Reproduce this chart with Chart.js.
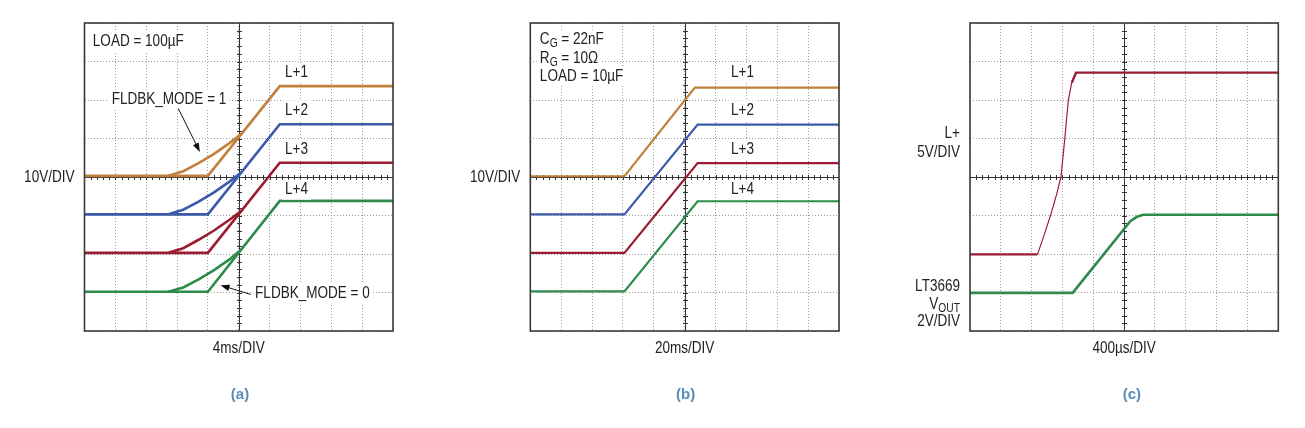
<!DOCTYPE html>
<html>
<head>
<meta charset="utf-8">
<title>Foldback mode waveforms</title>
<script src="https://cdn.jsdelivr.net/npm/chart.js@4.4.1/dist/chart.umd.min.js"></script>
<style>
    html, body { margin: 0; padding: 0; background: #fff; }
    #wrap { position: relative; width: 1305px; height: 428px; overflow: hidden; }
    #wrap canvas { position: absolute; top: 0; }
</style>
</head>
<body>
<div id="wrap">
    <canvas id="scope-a" width="440" height="428" style="left:0;width:440px;height:428px"></canvas>
    <canvas id="scope-b" width="440" height="428" style="left:440px;width:440px;height:428px"></canvas>
    <canvas id="scope-c" width="425" height="428" style="left:880px;width:425px;height:428px"></canvas>
</div>
<script>
/* values are in screen divisions: x 0..10, y 0..8 (bottom = 0) */

// ---- (a) LOAD = 100µF, 4ms/DIV ----
const aRampX = [0, 4.0, 6.33, 10];
const aL1 = [4.03, 4.03, 6.36, 6.36];
const aL2 = [3.03, 3.03, 5.37, 5.37];
const aL3 = [2.03, 2.03, 4.37, 4.37];
const aL4 = [1.02, 1.02, 3.38, 3.38];
// FLDBK_MODE = 1 branch, up to where it joins the ramp
const aSoftX = [2.72, 3.2, 3.7, 4.2, 4.7, 5.1];
const aSoftL1 = [4.03, 4.15, 4.36, 4.6, 4.88, 5.13];
const aSoftL2 = [3.03, 3.15, 3.36, 3.6, 3.88, 4.13];
const aSoftL3 = [2.03, 2.15, 2.37, 2.61, 2.89, 3.13];
const aSoftL4 = [1.02, 1.13, 1.34, 1.58, 1.86, 2.13];

// ---- (b) CG = 22nF, RG = 10Ω, LOAD = 10µF, 20ms/DIV ----
const bRampX1 = [0, 3.05, 5.33, 10];
const bRampX = [0, 3.05, 5.42, 10];
const bL1 = [4.02, 4.02, 6.32, 6.32];
const bL2 = [3.03, 3.03, 5.36, 5.36];
const bL3 = [2.03, 2.03, 4.36, 4.36];
const bL4 = [1.03, 1.03, 3.37, 3.37];

// ---- (c) L+ 5V/DIV, LT3669 VOUT 2V/DIV, 400µs/DIV ----
const cLplusX = [0, 2.19, 2.45, 2.65, 2.82, 2.95, 3.06, 3.19, 3.3, 3.44, 10];
const cLplus = [1.99, 1.99, 2.6, 3.1, 3.58, 4.0, 4.87, 6.0, 6.45, 6.71, 6.71];
const cVoutX = [0, 3.33, 5.2, 5.42, 5.62, 10];
const cVout = [0.99, 0.99, 2.85, 2.97, 3.02, 3.02];

const COLORS = {
    orange: '#C1803C',
    blue: '#3C5AAA',
    red: '#9B1C32',
    green: '#2E8B4C'
};
const FONT = '"Liberation Sans", Arial, sans-serif';
const MAIN_FONT = '16.5px ' + FONT;
const SUB_FONT = '12.5px ' + FONT;
const NARROW = 0.82;   // the scope captions use a condensed face

function trace(xs, ys, color, width, extra) {
    return Object.assign({
        data: xs.map((x, i) => ({ x: x, y: ys[i] })),
        showLine: true,
        borderColor: color,
        borderWidth: width,
        pointRadius: 0,
        fill: false
    }, extra || {});
}

// text made of normal and subscript runs, squeezed horizontally
function drawParts(ctx, parts, x, y, align, box) {
    let w = 0;
    parts.forEach(p => {
        ctx.font = p.sub ? SUB_FONT : MAIN_FONT;
        w += ctx.measureText(p.t).width * NARROW;
    });
    let cx = align === 'right' ? x - w : align === 'center' ? x - w / 2 : x;
    if (box) {
        ctx.fillStyle = '#fff';
        ctx.fillRect(cx - 3, y - 10, w + 6, 20);
    }
    ctx.fillStyle = '#222';
    ctx.textAlign = 'left';
    ctx.textBaseline = 'middle';
    parts.forEach(p => {
        ctx.font = p.sub ? SUB_FONT : MAIN_FONT;
        ctx.save();
        ctx.translate(cx, p.sub ? y + 4 : y);
        ctx.scale(NARROW, 1);
        ctx.fillText(p.t, 0, 0);
        ctx.restore();
        cx += ctx.measureText(p.t).width * NARROW;
    });
}

function drawArrow(ctx, x1, y1, x2, y2) {
    const ang = Math.atan2(y2 - y1, x2 - x1);
    const len = 9, half = 3.2;
    ctx.strokeStyle = '#111';
    ctx.fillStyle = '#111';
    ctx.lineWidth = 1;
    ctx.beginPath();
    ctx.moveTo(x1, y1);
    ctx.lineTo(x2 - Math.cos(ang) * len * 0.8, y2 - Math.sin(ang) * len * 0.8);
    ctx.stroke();
    ctx.beginPath();
    ctx.moveTo(x2, y2);
    ctx.lineTo(x2 - Math.cos(ang) * len + Math.sin(ang) * half, y2 - Math.sin(ang) * len - Math.cos(ang) * half);
    ctx.lineTo(x2 - Math.cos(ang) * len - Math.sin(ang) * half, y2 - Math.sin(ang) * len + Math.cos(ang) * half);
    ctx.closePath();
    ctx.fill();
}

const scopePlugin = {
    id: 'scope',
    beforeDatasetsDraw(chart) {
        const { ctx, chartArea: a, scales: { x, y } } = chart;
        const cx = Math.round(x.getPixelForValue(5)) + 0.5;
        const cy = Math.round(y.getPixelForValue(4)) + 0.5;
        ctx.save();
        ctx.strokeStyle = '#333';
        ctx.lineWidth = 1;
        ctx.beginPath();
        ctx.moveTo(a.left, cy); ctx.lineTo(a.right, cy);
        ctx.moveTo(cx, a.top); ctx.lineTo(cx, a.bottom);
        // minor ticks, 5 per division
        for (let i = 1; i < 50; i++) {
            const px = Math.round(x.getPixelForValue(i / 5)) + 0.5;
            ctx.moveTo(px, cy - 2.5); ctx.lineTo(px, cy + 2.5);
        }
        for (let i = 1; i < 40; i++) {
            const py = Math.round(y.getPixelForValue(i / 5)) + 0.5;
            ctx.moveTo(cx - 2.5, py); ctx.lineTo(cx + 2.5, py);
        }
        ctx.stroke();
        ctx.restore();
    },
    afterDatasetsDraw(chart, args, opts) {
        const { ctx, chartArea: a, scales: { x, y } } = chart;
        ctx.save();
        ctx.strokeStyle = '#3a3a3a';
        ctx.lineWidth = 1.6;
        ctx.strokeRect(a.left, a.top, a.right - a.left, a.bottom - a.top);

        (opts.notes || []).forEach(n => {
            drawParts(ctx, n.parts, x.getPixelForValue(n.x), y.getPixelForValue(n.y), 'left', true);
        });
        (opts.arrows || []).forEach(r => {
            drawArrow(ctx, x.getPixelForValue(r.from[0]), y.getPixelForValue(r.from[1]),
                x.getPixelForValue(r.to[0]), y.getPixelForValue(r.to[1]));
        });
        (opts.side || []).forEach(s => {
            drawParts(ctx, s.parts, a.left - 10, y.getPixelForValue(s.y), 'right', false);
        });
        drawParts(ctx, [{ t: opts.xTitle }], (a.left + a.right) / 2, a.bottom + 17, 'center', false);

        ctx.font = 'bold 15px "Liberation Sans", Arial, sans-serif';
        ctx.fillStyle = '#5A8CB9';
        ctx.textAlign = 'center';
        ctx.textBaseline = 'middle';
        ctx.fillText(opts.tag, x.getPixelForValue(opts.tagX), a.bottom + 64);
        ctx.restore();
    }
};

function scopeChart(id, datasets, pad, scope) {
    const axis = max => ({
        type: 'linear',
        min: 0,
        max: max,
        ticks: { display: false, stepSize: 1 },
        grid: { color: '#9a9a9a', lineWidth: 1, drawTicks: false },
        border: { display: false, dash: [1, 2] }
    });
    return new Chart(document.getElementById(id), {
        type: 'scatter',
        data: { datasets: datasets },
        options: {
            responsive: false,
            animation: false,
            events: [],
            layout: { padding: pad },
            elements: { line: { tension: 0 } },
            plugins: {
                legend: { display: false },
                tooltip: { enabled: false },
                scope: scope
            },
            scales: { x: axis(10), y: axis(8) }
        },
        plugins: [scopePlugin]
    });
}

const lLabels = ['L+1', 'L+2', 'L+3', 'L+4'];
const lLabelY = [6.71, 5.73, 4.72, 3.67];
const lNotes = lLabels.map((t, i) => ({ x: 6.5, y: lLabelY[i], parts: [{ t: t }] }));

// (a)
scopeChart('scope-a', [
    trace(aRampX, aL1, COLORS.orange, 2.6),
    trace(aSoftX, aSoftL1, COLORS.orange, 2.6),
    trace(aRampX, aL2, COLORS.blue, 2.6),
    trace(aSoftX, aSoftL2, COLORS.blue, 2.6),
    trace(aRampX, aL3, COLORS.red, 2.6),
    trace(aSoftX, aSoftL3, COLORS.red, 2.6),
    trace(aRampX, aL4, COLORS.green, 2.6),
    trace(aSoftX, aSoftL4, COLORS.green, 2.6)
], { left: 84.5, right: 47, top: 23, bottom: 97 }, {
    notes: [
        { x: 0.27, y: 7.53, parts: [{ t: 'LOAD = 100µF' }] },
        { x: 0.88, y: 6.01, parts: [{ t: 'FLDBK_MODE = 1' }] },
        { x: 5.53, y: 0.97, parts: [{ t: 'FLDBK_MODE = 0' }] }
    ].concat(lNotes),
    arrows: [
        { from: [3.04, 5.78], to: [3.74, 4.65] },
        { from: [5.39, 0.95], to: [4.41, 1.19] }
    ],
    side: [{ y: 4.0, parts: [{ t: '10V/DIV' }] }],
    xTitle: '4ms/DIV',
    tag: '(a)',
    tagX: 5.04
});

// (b)
scopeChart('scope-b', [
    trace(bRampX1, bL1, COLORS.orange, 2.2),
    trace(bRampX, bL2, COLORS.blue, 2.2),
    trace(bRampX, bL3, COLORS.red, 2.2),
    trace(bRampX, bL4, COLORS.green, 2.2)
], { left: 90.3, right: 41, top: 23, bottom: 97 }, {
    notes: [
        { x: 0.31, y: 7.57, parts: [{ t: 'C' }, { t: 'G', sub: true }, { t: ' = 22nF' }] },
        { x: 0.31, y: 7.08, parts: [{ t: 'R' }, { t: 'G', sub: true }, { t: ' = 10Ω' }] },
        { x: 0.31, y: 6.62, parts: [{ t: 'LOAD = 10µF' }] }
    ].concat(lNotes),
    side: [{ y: 4.0, parts: [{ t: '10V/DIV' }] }],
    xTitle: '20ms/DIV',
    tag: '(b)',
    tagX: 5.03
});

// (c) the fast edge of L+ draws thinner than its flat parts
const steepWidth = ctx => {
    const dx = ctx.p1.parsed.x - ctx.p0.parsed.x;
    const dy = ctx.p1.parsed.y - ctx.p0.parsed.y;
    return Math.abs(dy) > 2 * Math.abs(dx) ? 1.2 : 2.4;
};
scopeChart('scope-c', [
    trace(cLplusX, cLplus, COLORS.red, 2.4, { segment: { borderWidth: steepWidth } }),
    trace(cVoutX, cVout, COLORS.green, 2.6)
], { left: 90, right: 26.7, top: 23, bottom: 97 }, {
    side: [
        { y: 5.13, parts: [{ t: 'L+' }] },
        { y: 4.65, parts: [{ t: '5V/DIV' }] },
        { y: 1.16, parts: [{ t: 'LT3669' }] },
        { y: 0.69, parts: [{ t: 'V' }, { t: 'OUT', sub: true }] },
        { y: 0.26, parts: [{ t: '2V/DIV' }] }
    ],
    xTitle: '400µs/DIV',
    tag: '(c)',
    tagX: 5.25
});
</script>
</body>
</html>
